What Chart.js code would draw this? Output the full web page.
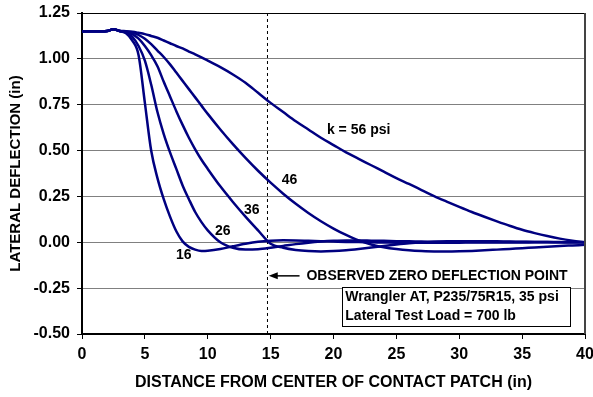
<!DOCTYPE html>
<html>
<head>
<meta charset="utf-8">
<script src="https://cdn.jsdelivr.net/npm/chart.js@4.4.1/dist/chart.umd.min.js"></script>
<style>
  body { margin: 0; background: #fff; }
</style>
</head>
<body>
<canvas id="myChart" width="593" height="397"></canvas>
<script>
// distance from center of contact patch (in)
let distance = [0, 1, 2, 2.5, 3, 3.5, 4, 4.5, 5, 5.5, 6, 6.5, 7, 7.5, 8, 8.5, 9, 9.5, 10,
  11, 12, 13, 14, 15, 16, 17, 18, 19, 20, 21, 22, 23, 24, 25, 26, 27, 28, 29, 30,
  31, 32, 33, 34, 35, 36, 37, 38, 39, 40]

// lateral deflection (in) for each foundation stiffness k
let k16 = [1.15, 1.15, 1.152, 1.162, 1.152, 1.14, 1.10, 1.02, 0.76, 0.50, 0.35, 0.235, 0.14, 0.06, 0.005, -0.025, -0.04, -0.047, -0.046,
  -0.037, -0.022, -0.008, 0.003, 0.009, 0.011, 0.01, 0.008, 0.006, 0.004, 0.002, 0.001, 0, -0.001, -0.002, -0.002, -0.002, -0.002, -0.002, -0.002,
  -0.001, -0.001, -0.001, -0.001, -0.001, 0, 0, 0, 0, 0]
let k26 = [1.15, 1.15, 1.152, 1.162, 1.152, 1.145, 1.12, 1.07, 0.99, 0.86, 0.71, 0.59, 0.49, 0.40, 0.31, 0.235, 0.165, 0.11, 0.065,
  0.0, -0.03, -0.04, -0.038, -0.03, -0.02, -0.01, -0.002, 0.004, 0.008, 0.01, 0.01, 0.009, 0.008, 0.006, 0.005, 0.004, 0.003, 0.002, 0.002,
  0.002, 0.002, 0.001, 0.001, 0.001, 0.001, 0.001, 0, 0, 0]
let k36 = [1.15, 1.15, 1.152, 1.162, 1.152, 1.148, 1.135, 1.11, 1.07, 1.02, 0.96, 0.875, 0.795, 0.715, 0.64, 0.57, 0.507, 0.45, 0.4,
  0.305, 0.22, 0.14, 0.065, -0.008, -0.03, -0.042, -0.048, -0.05, -0.048, -0.043, -0.036, -0.028, -0.02, -0.012, -0.005, 0, 0.003, 0.005, 0.006,
  0.006, 0.006, 0.005, 0.004, 0.003, 0.002, 0.002, 0.001, 0, 0]
let k46 = [1.15, 1.15, 1.152, 1.162, 1.152, 1.15, 1.145, 1.13, 1.11, 1.08, 1.045, 1.01, 0.97, 0.925, 0.88, 0.835, 0.79, 0.745, 0.70,
  0.615, 0.535, 0.46, 0.39, 0.325, 0.265, 0.21, 0.16, 0.115, 0.075, 0.04, 0.01, -0.012, -0.027, -0.037, -0.044, -0.048, -0.05, -0.05, -0.049,
  -0.047, -0.044, -0.04, -0.036, -0.032, -0.028, -0.024, -0.02, -0.017, -0.014]
let k56 = [1.15, 1.15, 1.152, 1.162, 1.152, 1.151, 1.148, 1.142, 1.135, 1.125, 1.115, 1.10, 1.085, 1.07, 1.057, 1.04, 1.025, 1.008, 0.99,
  0.955, 0.915, 0.87, 0.815, 0.76, 0.71, 0.66, 0.615, 0.57, 0.53, 0.49, 0.455, 0.42, 0.385, 0.35, 0.318, 0.285, 0.252, 0.222, 0.193,
  0.165, 0.139, 0.114, 0.09, 0.068, 0.05, 0.034, 0.02, 0.009, 0]

let zeroPointX = [14.75, 14.75]
let zeroPointY = [-0.5, 1.25]

let xTicks = [0, 5, 10, 15, 20, 25, 30, 35, 40]
let yTicks = [-0.5, -0.25, 0, 0.25, 0.5, 0.75, 1.0, 1.25]

let curveLabels = [
  { text: '16', x: 8.1, y: -0.07 },
  { text: '26', x: 11.2, y: 0.062 },
  { text: '36', x: 13.5, y: 0.177 },
  { text: '46', x: 16.5, y: 0.34 },
  { text: 'k = 56 psi', x: 22.0, y: 0.61 },
]
let noteLines = ['Wrangler AT, P235/75R15, 35 psi', 'Lateral Test Load = 700 lb']

Chart.defaults.font.family = "'Liberation Sans', Arial, sans-serif"
Chart.defaults.color = '#000'

function toPoints(ys) {
  return distance.map((d, i) => ({ x: d, y: ys[i] }))
}

function curve(ys) {
  return {
    data: toPoints(ys),
    borderColor: '#000080',
    borderWidth: 2.5,
    pointRadius: 0,
    fill: false,
    cubicInterpolationMode: 'monotone',
    order: 1,
  }
}

const notes = {
  id: 'notes',
  afterDatasetsDraw(chart) {
    const { ctx, chartArea: a, scales: { x, y } } = chart
    ctx.save()

    // frame top + right
    ctx.strokeStyle = '#000'
    ctx.lineWidth = 1
    ctx.beginPath()
    ctx.moveTo(a.left, a.top + 0.5)
    ctx.lineTo(a.right, a.top + 0.5)
    ctx.stroke()
    ctx.strokeStyle = '#444'
    ctx.lineWidth = 2
    ctx.beginPath()
    ctx.moveTo(a.right, a.top)
    ctx.lineTo(a.right, a.bottom)
    ctx.stroke()

    ctx.fillStyle = '#000'
    ctx.font = "bold 14px 'Liberation Sans', Arial, sans-serif"
    ctx.textBaseline = 'middle'
    ctx.textAlign = 'center'
    curveLabels.forEach((l) => {
      ctx.fillText(l.text, x.getPixelForValue(l.x), y.getPixelForValue(l.y))
    })

    // arrow to observed zero point
    let ay = y.getPixelForValue(-0.183)
    let ax0 = x.getPixelForValue(14.85)
    let ax1 = x.getPixelForValue(17.3)
    ctx.lineWidth = 1.5
    ctx.strokeStyle = '#000'
    ctx.beginPath()
    ctx.moveTo(ax0 + 6, ay)
    ctx.lineTo(ax1, ay)
    ctx.stroke()
    ctx.beginPath()
    ctx.moveTo(ax0, ay)
    ctx.lineTo(ax0 + 9, ay - 3.5)
    ctx.lineTo(ax0 + 9, ay + 3.5)
    ctx.closePath()
    ctx.fill()
    ctx.textAlign = 'left'
    ctx.fillText('OBSERVED ZERO DEFLECTION POINT', x.getPixelForValue(17.85), ay)

    // note box
    let bx0 = x.getPixelForValue(20.7)
    let bx1 = x.getPixelForValue(38.87)
    let by0 = y.getPixelForValue(-0.242)
    let by1 = y.getPixelForValue(-0.456)
    ctx.fillStyle = '#fff'
    ctx.fillRect(bx0, by0, bx1 - bx0, by1 - by0)
    ctx.lineWidth = 1
    ctx.strokeRect(Math.round(bx0) + 0.5, Math.round(by0) + 0.5, Math.round(bx1 - bx0), Math.round(by1 - by0))
    ctx.fillStyle = '#000'
    noteLines.forEach((t, i) => {
      ctx.fillText(t, bx0 + 3, by0 + 10.5 + i * 18.5)
    })
    ctx.restore()
  },
}

const ctx = document.getElementById('myChart').getContext('2d')

const myChart = new Chart(ctx, {
  type: 'line',
  data: {
    datasets: [
      {
        data: zeroPointX.map((v, i) => ({ x: v, y: zeroPointY[i] })),
        borderColor: '#000',
        borderWidth: 1,
        borderDash: [3, 3],
        pointRadius: 0,
        order: 10,
      },
      curve(k16),
      curve(k26),
      curve(k36),
      curve(k46),
      curve(k56),
    ],
  },
  options: {
    responsive: false,
    animation: false,
    layout: { padding: { top: 13, right: 8, left: 0, bottom: 0 } },
    scales: {
      x: {
        type: 'linear',
        min: 0,
        max: 40,
        afterBuildTicks: (scale) => {
          scale.ticks = xTicks.map((v) => ({ value: v }))
        },
        afterFit: (scale) => {
          scale.height = 63
          scale.paddingLeft = 0
          scale.paddingRight = 0
        },
        ticks: {
          font: { size: 16, weight: 'bold' },
          padding: 6,
          maxRotation: 0,
        },
        grid: {
          drawOnChartArea: false,
          tickLength: 5,
          tickColor: '#000',
        },
        border: { color: '#000', width: 2 },
        title: {
          display: true,
          text: 'DISTANCE FROM CENTER OF CONTACT PATCH (in)',
          font: { size: 16, weight: 'bold' },
          padding: { bottom: 5, top: 0 },
        },
      },
      y: {
        min: -0.5,
        max: 1.25,
        afterBuildTicks: (scale) => {
          scale.ticks = yTicks.map((v) => ({ value: v }))
        },
        afterFit: (scale) => {
          scale.width = 82
          scale.paddingTop = 0
          scale.paddingBottom = 0
        },
        ticks: {
          font: { size: 16, weight: 'bold' },
          padding: 7,
          callback: function (value) {
            return value.toFixed(2)
          },
        },
        grid: {
          color: '#808080',
          tickLength: 5,
          tickColor: '#000',
        },
        border: { color: '#000', width: 2 },
        title: {
          display: true,
          text: 'LATERAL DEFLECTION (in)',
          font: { size: 15, weight: 'bold' },
          padding: { top: 7, bottom: 0 },
        },
      },
    },
    plugins: {
      legend: { display: false },
      tooltip: { enabled: false },
    },
  },
  plugins: [notes],
})
</script>
</body>
</html>
